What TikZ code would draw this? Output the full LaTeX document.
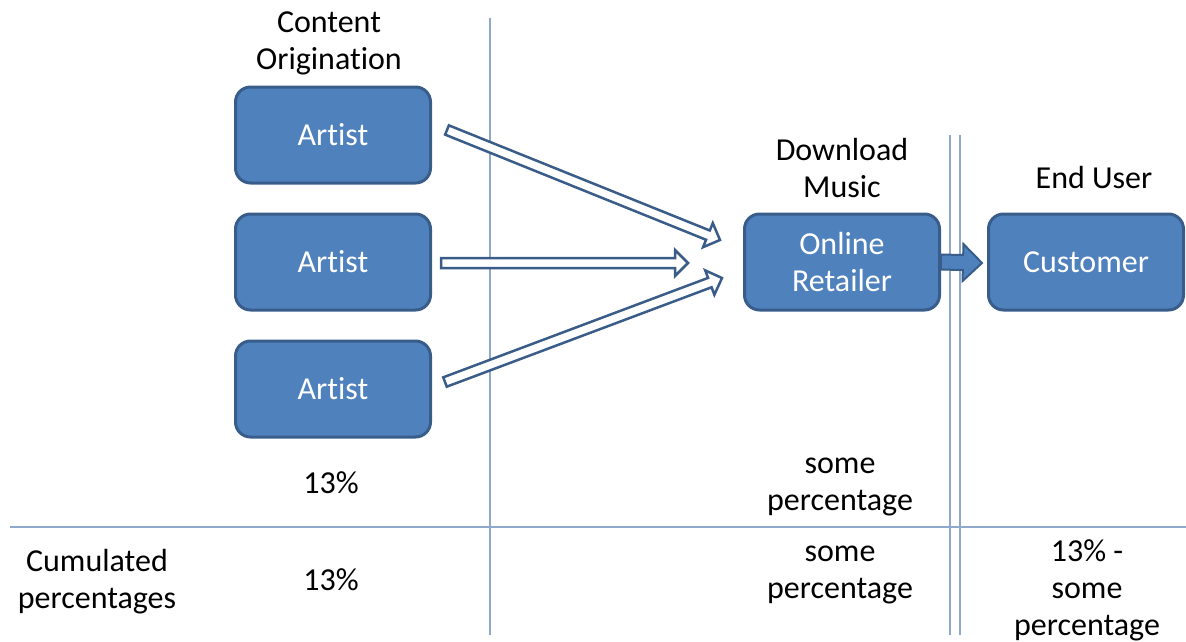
\documentclass[tikz,border=0pt]{standalone}
\usepackage{fontspec}
\setmainfont[Ligatures=NoCommon]{Carlito}
\usetikzlibrary{calc,positioning}

\definecolor{boxfill}{HTML}{4F81BD}
\definecolor{boxline}{HTML}{385D8A}
\definecolor{arrowline}{HTML}{3A5C88}
\definecolor{gridline}{HTML}{8FA9CC}

\begin{document}
\begin{tikzpicture}[x=1pt,y=-1pt]
			\tikzstyle{Box}		= [rectangle, rounded corners=15pt, draw=boxline, line width=3pt, fill=boxfill, text=white, minimum width=195pt, minimum height=96pt, align=center, font=\fontsize{32}{37}\selectfont]
			\tikzstyle{Label}	= [align=center, font=\fontsize{32}{37}\selectfont]
			\tikzstyle{Rule}	= [gridline, line width=1.3pt]
			\tikzstyle{Hollow}	= [draw=arrowline, line width=2.5pt, fill=white, line join=miter]
			\tikzstyle{Solid}	= [draw=boxline, line width=2pt, fill=boxfill, line join=miter]

			\useasboundingbox (0,0) rectangle (1186,642);

			% column and row separators
			\draw [Rule] (490,18) -- (490,635);
			\draw [Rule] (950,135) -- (950,635);
			\draw [Rule] (960,135) -- (960,635);
			\draw [Rule] (10,527) -- (1186,527);

			\foreach \n/\y in {1/135, 2/262, 3/389}
				\node (a\n) at (333,\y) [Box] {Artist};
			\node (r) at (842,262) [Box] {Online\\Retailer};
			\node (c) at (1086,262) [Box] {Customer};

			% headings and percentages
			\node (origin) at (329,43) [Label] {Content\\Origination};
			\node (download) at (842,168) [Label] {Download\\Music};
			\node (enduser) at (1094,178) [Label] {End User};
			\node (p1) at (331,483) [Label] {13\%};
			\node (p2) at (840,487) [Label] {some\\percentage};
			\node (cum) at (97,582) [Label] {Cumulated\\percentages};
			\node (c1) at (331,580) [Label] {13\%};
			\node (c2) at (840,575) [Label] {some\\percentage};
			\node (c3) at (1087,590) [Label] {13\% -\\some\\percentage};

			\coordinate (t1) at (447,130);	\coordinate (h1) at (720,240);
			\coordinate (t2) at (441,263);	\coordinate (h2) at (688,263);
			\coordinate (t3) at (445,382);	\coordinate (h3) at (722,278);
			\coordinate (rt) at (r.east);	\coordinate (ct) at (982,263);

			% block arrows: tail/tip/shaft half width/head half width/head length
			\foreach \s/\e/\w/\W/\L/\sty in {t1/h1/5/13/13/Hollow, t2/h2/5/13/13/Hollow, t3/h3/5/13/13/Hollow, rt/ct/7.5/18.5/19/Solid}
				\draw [\sty] let \p1 = ($(\e)-(\s)$), \n1 = {atan2(\y1,\x1)}, \n2 = {veclen(\x1,\y1)-\L pt} in
					($(\s)+(\n1+90:\w pt)$) -- ($(\s)+(\n1:\n2)+(\n1+90:\w pt)$) -- ($(\s)+(\n1:\n2)+(\n1+90:\W pt)$)
					-- (\e) -- ($(\s)+(\n1:\n2)+(\n1-90:\W pt)$) -- ($(\s)+(\n1:\n2)+(\n1-90:\w pt)$)
					-- ($(\s)+(\n1-90:\w pt)$) -- cycle;
		\end{tikzpicture}
\end{document}
